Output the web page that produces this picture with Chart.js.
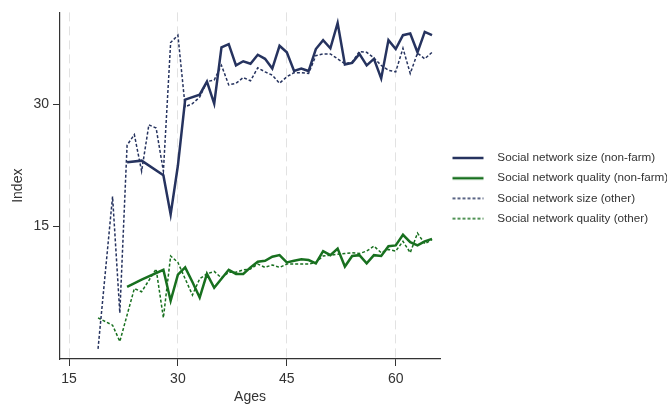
<!DOCTYPE html>
<html>
<head>
<meta charset="utf-8">
<script src="https://cdn.jsdelivr.net/npm/chart.js@4.4.1/dist/chart.umd.min.js"></script>
<style>
  html, body { margin: 0; padding: 0; background: #fff; }
  #wrap { width: 667px; height: 407px; }
</style>
</head>
<body>
<div id="wrap"><canvas id="chart" width="667" height="407"></canvas></div>
<script>
// ages and values
const sizeNonFarmAges = [23, 25, 28, 29, 30, 31, 33, 34, 35, 36, 37, 38, 39, 40, 41, 42, 43, 44, 45, 46, 47, 48, 49, 50, 51, 52, 53, 54, 55, 56, 57, 58, 59, 60, 61, 62, 63, 64, 65];
const sizeNonFarm = [22.9, 23.1, 21.3, 16.5, 22.5, 30.6, 31.2, 32.8, 30.1, 37.0, 37.4, 34.8, 35.3, 35.0, 36.1, 35.6, 34.4, 37.2, 36.4, 34.1, 34.4, 34.1, 36.8, 37.9, 36.9, 40.0, 34.9, 35.1, 36.2, 34.8, 35.6, 33.2, 37.9, 36.8, 38.5, 38.7, 36.4, 38.9, 38.5];

const qualityNonFarmAges = [23, 25, 28, 29, 30, 31, 32, 33, 34, 35, 36, 37, 38, 39, 40, 41, 42, 43, 44, 45, 46, 47, 48, 49, 50, 51, 52, 53, 54, 55, 56, 57, 58, 59, 60, 61, 62, 63, 64, 65];
const qualityNonFarm = [7.6, 8.5, 9.7, 5.9, 9.1, 10.0, 8.2, 6.3, 9.2, 7.5, 8.6, 9.7, 9.2, 9.2, 10.0, 10.7, 10.8, 11.3, 11.5, 10.6, 10.8, 11.0, 10.9, 10.5, 12.0, 11.5, 12.3, 10.1, 11.4, 11.5, 10.5, 11.5, 11.4, 12.6, 12.7, 14.0, 13.1, 12.7, 13.2, 13.5];

const sizeOtherAges = [19, 21, 22, 23, 24, 25, 26, 27, 28, 29, 30, 31, 32, 33, 34, 35, 36, 37, 38, 39, 40, 41, 42, 43, 44, 45, 46, 47, 48, 49, 50, 51, 52, 53, 54, 55, 56, 57, 58, 59, 60, 61, 62, 63, 64, 65];
const sizeOther = [0.0, 18.7, 4.4, 25.0, 26.3, 21.8, 27.5, 27.1, 21.8, 37.6, 38.5, 29.7, 30.1, 30.9, 32.8, 33.0, 34.8, 32.4, 32.6, 33.3, 32.9, 34.5, 34.0, 33.6, 32.6, 33.4, 33.9, 33.9, 33.8, 36.0, 36.2, 36.2, 35.6, 35.0, 35.2, 36.5, 36.4, 35.7, 34.8, 34.2, 34.0, 36.9, 33.8, 36.3, 35.6, 36.4];

const qualityOtherAges = [19, 21, 22, 24, 25, 27, 28, 29, 30, 31, 32, 33, 34, 35, 36, 37, 38, 39, 40, 41, 42, 43, 44, 45, 46, 47, 48, 49, 50, 51, 52, 53, 54, 55, 56, 57, 58, 59, 60, 61, 62, 63, 64, 65];
const qualityOther = [3.8, 2.9, 0.9, 7.4, 7.0, 9.8, 3.8, 11.4, 10.6, 8.6, 6.6, 8.6, 9.2, 9.5, 8.7, 9.4, 9.4, 9.7, 9.8, 10.4, 10.0, 10.3, 10.0, 10.4, 10.4, 10.4, 10.4, 10.6, 11.4, 11.5, 11.6, 11.7, 11.8, 11.7, 12.0, 12.6, 11.8, 12.2, 12.0, 13.2, 11.8, 14.2, 12.9, 13.4];

const xTicks = [15, 30, 45, 60];
const yTicks = [15, 30];

const navy = "#26335f";
const green = "#18701f";
const FONT = "'Liberation Sans', Arial, sans-serif";

function toPoints(ages, values) {
    return ages.map((a, i) => ({ x: a, y: values[i] }));
}

// little canvas used as the legend sample for each line
function legendSample(color, width, dash) {
    const c = document.createElement("canvas");
    c.width = 43;
    c.height = 6;
    const g = c.getContext("2d");
    g.strokeStyle = color;
    g.lineWidth = width;
    g.setLineDash(dash);
    g.beginPath();
    g.moveTo(4, 3);
    g.lineTo(35, 3);
    g.stroke();
    return c;
}

// the right-hand legend needs more room than chart.js gives a side box
const legendWidth = {
    id: "legendWidth",
    beforeLayout(chart) {
        const lg = chart.legend;
        if (lg && !lg._fixedWidth) {
            const fit = lg.fit;
            lg.fit = function () {
                fit.call(this);
                this.width = 227;
            };
            lg._fixedWidth = true;
        }
    }
};

const ctx = document.getElementById("chart").getContext("2d");
new Chart(ctx, {
    type: "line",
    data: {
        datasets: [
            {
                label: "Social network size (non-farm)",
                data: toPoints(sizeNonFarmAges, sizeNonFarm),
                borderColor: navy,
                backgroundColor: navy,
                borderWidth: 2.5,
                pointStyle: legendSample(navy, 2.5, [])
            },
            {
                label: "Social network quality (non-farm)",
                data: toPoints(qualityNonFarmAges, qualityNonFarm),
                borderColor: green,
                backgroundColor: green,
                borderWidth: 2.5,
                pointStyle: legendSample(green, 2.5, [])
            },
            {
                label: "Social network size (other)",
                data: toPoints(sizeOtherAges, sizeOther),
                borderColor: navy,
                backgroundColor: navy,
                borderWidth: 1.5,
                borderDash: [3, 2],
                pointStyle: legendSample(navy, 1.5, [3, 2])
            },
            {
                label: "Social network quality (other)",
                data: toPoints(qualityOtherAges, qualityOther),
                borderColor: green,
                backgroundColor: green,
                borderWidth: 1.5,
                borderDash: [3, 2],
                pointStyle: legendSample(green, 1.5, [3, 2])
            }
        ]
    },
    options: {
        responsive: false,
        animation: false,
        elements: {
            point: { radius: 0 },
            line: { tension: 0 }
        },
        layout: { padding: { left: 6, top: 10, right: 0, bottom: 1 } },
        plugins: {
            tooltip: { enabled: false },
            legend: {
                position: "right",
                fullSize: false,
                // empty title only nudges the rows down a little
                title: { display: true, text: "", padding: { top: 4, bottom: 0 }, font: { size: 1 } },
                labels: {
                    usePointStyle: true,
                    pointStyleWidth: 43,
                    padding: 8.5,
                    color: "#333",
                    font: { family: FONT, size: 11.7 }
                }
            }
        },
        scales: {
            x: {
                type: "linear",
                min: 13.76,
                max: 66.1,
                afterBuildTicks: axis => { axis.ticks = xTicks.map(v => ({ value: v })); },
                afterFit: axis => { axis.height = 47; },
                grid: {
                    color: "#e2e2e2",
                    lineWidth: 1,
                    tickColor: "#333",
                    tickLength: 7
                },
                border: { color: "#333", width: 1.2, dash: [9, 5] },
                ticks: {
                    color: "#333",
                    padding: 5,
                    maxRotation: 0,
                    font: { family: FONT, size: 14 }
                },
                title: {
                    display: true,
                    text: "Ages",
                    color: "#333",
                    padding: { top: 0, bottom: 0 },
                    font: { family: FONT, size: 14 }
                }
            },
            y: {
                type: "linear",
                min: -1.25,
                max: 41.3,
                afterBuildTicks: axis => { axis.ticks = yTicks.map(v => ({ value: v })); },
                afterFit: axis => { axis.width = 54; },
                grid: {
                    drawOnChartArea: false,
                    color: "#333",
                    tickColor: "#333",
                    tickLength: 7
                },
                border: { color: "#333", width: 1.2 },
                ticks: {
                    color: "#333",
                    padding: 4,
                    font: { family: FONT, size: 14 }
                },
                title: {
                    display: true,
                    text: "Index",
                    color: "#333",
                    padding: { top: 4, bottom: 0 },
                    font: { family: FONT, size: 14 }
                }
            }
        }
    },
    plugins: [legendWidth]
});
</script>
</body>
</html>
